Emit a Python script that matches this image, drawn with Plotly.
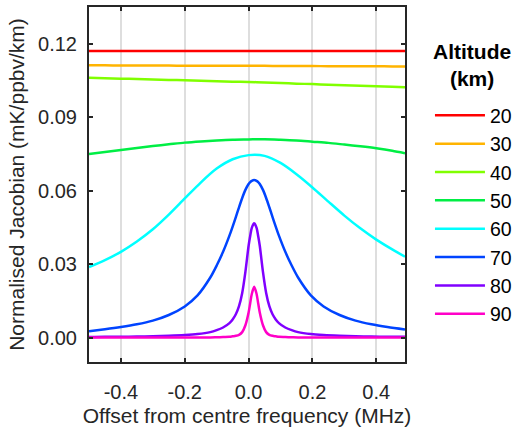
import plotly.graph_objects as go

# Offset from centre frequency (MHz)
x_fine = [-0.5, -0.45, -0.4, -0.35, -0.3, -0.25, -0.2, -0.16, -0.12, -0.1,
          -0.08, -0.06, -0.05, -0.04, -0.03, -0.02, -0.01, 0.0, 0.005, 0.01,
          0.0175, 0.025, 0.03, 0.035, 0.045, 0.055, 0.065, 0.075, 0.085, 0.095,
          0.115, 0.135, 0.155, 0.195, 0.235, 0.285, 0.335, 0.385, 0.435, 0.49]
x_coarse = [-0.5, -0.45, -0.4, -0.35, -0.3, -0.25, -0.2, -0.15, -0.1, -0.05,
            0.0, 0.05, 0.1, 0.15, 0.2, 0.25, 0.3, 0.35, 0.4, 0.45, 0.49]

# Normalised Jacobian (mK/ppbv/km) per altitude
jac_20 = [0.1170] * 21
jac_30 = [0.1112, 0.1112, 0.1111, 0.1111, 0.1111, 0.1111, 0.1110, 0.1110, 0.1110, 0.1110,
          0.1110, 0.1110, 0.1109, 0.1109, 0.1109, 0.1108, 0.1108, 0.1108, 0.1108, 0.1107, 0.1107]
jac_40 = [0.1061, 0.1059, 0.1057, 0.1056, 0.1054, 0.1052, 0.1051, 0.1049, 0.1047, 0.1045,
          0.1044, 0.1042, 0.1040, 0.1037, 0.1035, 0.1032, 0.1030, 0.1028, 0.1026, 0.1024, 0.1022]
jac_50 = [0.0750, 0.0758, 0.0766, 0.0774, 0.0782, 0.0789, 0.0796, 0.0801, 0.0805, 0.0808,
          0.0809, 0.0810, 0.0808, 0.0805, 0.0800, 0.0795, 0.0788, 0.0781, 0.0773, 0.0763, 0.0753]
jac_60 = [0.0288, 0.0316, 0.0350, 0.0392, 0.0442, 0.0502, 0.0568, 0.0633, 0.0690, 0.0728,
          0.0745, 0.0742, 0.0713, 0.0667, 0.0613, 0.0555, 0.0498, 0.0446, 0.0400, 0.0360, 0.0330]
jac_70 = [0.0026, 0.0034, 0.0043, 0.0054, 0.0069, 0.0092, 0.0127, 0.0172, 0.0245, 0.0294,
          0.0350, 0.0416, 0.0453, 0.0492, 0.0532, 0.0570, 0.0603, 0.0627, 0.0635, 0.0640,
          0.0643, 0.0640, 0.0635, 0.0627, 0.0603, 0.0570, 0.0532, 0.0492, 0.0453, 0.0416,
          0.0350, 0.0294, 0.0245, 0.0172, 0.0127, 0.0092, 0.0069, 0.0054, 0.0043, 0.0033]
jac_80 = [0.0002, 0.0003, 0.0003, 0.0004, 0.0005, 0.0007, 0.0010, 0.0014, 0.0022, 0.0030,
          0.0041, 0.0059, 0.0074, 0.0095, 0.0128, 0.0182, 0.0268, 0.0375, 0.0415, 0.0448,
          0.0467, 0.0448, 0.0415, 0.0375, 0.0268, 0.0182, 0.0128, 0.0095, 0.0074, 0.0059,
          0.0041, 0.0030, 0.0022, 0.0014, 0.0010, 0.0007, 0.0005, 0.0004, 0.0003, 0.0003]
jac_90 = [0.0, 0.0, 0.0, 0.0, 0.0, 0.0, 0.0, 0.0, 0.0, 0.0001,
          0.0002, 0.0003, 0.0005, 0.0007, 0.0011, 0.0022, 0.0050, 0.0102, 0.0140, 0.0178,
          0.0207, 0.0178, 0.0140, 0.0102, 0.0050, 0.0022, 0.0011, 0.0007, 0.0005, 0.0003,
          0.0002, 0.0001, 0.0, 0.0, 0.0, 0.0, 0.0, 0.0, 0.0, 0.0]

altitudes = ["20", "30", "40", "50", "60", "70", "80", "90"]
colors = ["#FF0000", "#FFB400", "#80FF00", "#00EE44",
          "#00FFFF", "#0044FF", "#8000FF", "#FF00C8"]
series = [(x_coarse, jac_20), (x_coarse, jac_30), (x_coarse, jac_40), (x_coarse, jac_50),
          (x_coarse, jac_60), (x_fine, jac_70), (x_fine, jac_80), (x_fine, jac_90)]

x_ticks = [-0.4, -0.2, 0.0, 0.2, 0.4]
x_ticklabels = ["-0.4", "-0.2", "0.0", "0.2", "0.4"]
y_ticks = [0.0, 0.03, 0.06, 0.09, 0.12]
y_ticklabels = ["0.00", "0.03", "0.06", "0.09", "0.12"]
legend_heading = "<b>Altitude</b><br><b>(km)</b>"

FONT = "Liberation Sans, Arial, sans-serif"
INK = "#262626"

fig = go.Figure()
for name, color, (xs, ys) in zip(altitudes, colors, series):
    fig.add_trace(go.Scatter(
        x=xs, y=ys, name=name, mode="lines",
        line=dict(color=color, width=2.5, shape="spline", smoothing=0.8),
    ))

# centred two-line heading above the legend entries
fig.add_annotation(
    text=legend_heading, xref="paper", yref="paper",
    x=1.212, y=0.838, xanchor="center", yanchor="middle",
    align="center", showarrow=False,
    font=dict(family=FONT, size=21, color="black"),
)

fig.update_layout(
    width=515, height=427,
    margin=dict(l=89, r=110, t=7, b=65, autoexpand=False),
    paper_bgcolor="white", plot_bgcolor="white",
    font=dict(family=FONT, color=INK, size=20),
    showlegend=True,
    legend=dict(
        font=dict(family=FONT, size=19.5, color="black"),
        x=1.079, xanchor="left", y=0.749, yanchor="top",
        bgcolor="rgba(0,0,0,0)", borderwidth=0,
        tracegroupgap=0, itemwidth=50,
    ),
    xaxis=dict(
        range=[-0.5, 0.49], tickvals=x_ticks, ticktext=x_ticklabels,
        showgrid=True, gridcolor="#DEDEDE", gridwidth=2, zeroline=False,
        showline=True, linecolor=INK, linewidth=2, mirror="allticks",
        ticks="inside", ticklen=4, tickwidth=1.5, tickcolor=INK,
        tickfont=dict(size=20, color=INK), ticklabelstandoff=11,
        title=dict(text="Offset from centre frequency (MHz)",
                   font=dict(size=21, color=INK), standoff=11),
    ),
    yaxis=dict(
        range=[-0.01, 0.135], tickvals=y_ticks, ticktext=y_ticklabels,
        showgrid=False, zeroline=False,
        showline=True, linecolor=INK, linewidth=2, mirror="allticks",
        ticks="inside", ticklen=4, tickwidth=1.5, tickcolor=INK,
        tickfont=dict(size=20, color=INK), ticklabelstandoff=6,
        title=dict(text="Normalised Jacobian (mK/ppbv/km)",
                   font=dict(size=21, color=INK), standoff=8),
    ),
)

fig.write_html("out.html")
